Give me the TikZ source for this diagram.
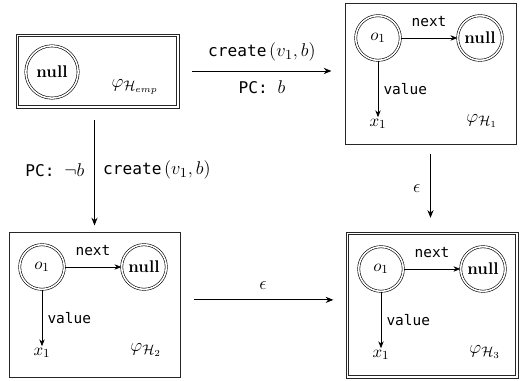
\documentclass[tikz,border=0pt]{standalone}
\usepackage{fontspec}
\setmonofont{DejaVu Sans Mono}
\usetikzlibrary{arrows.meta}
\def\U{0.65pt}
\newcommand\heapcontent[3]{%
  \begin{scope}[shift={#2}]
    \node[objnode] (#1o) at (33,35) {$o_1$};
    \node[objnode] (#1n) at (135,35) {\textbf{null}};
    \node[varnode] (#1x) at (33,121) {$x_1$};
    \node[phinode] (#1p) at (137,118) {$\varphi_{\mathcal{H}_{#3}}$};
    \draw[iarr] (#1o) -- (#1n) node[midway,above=3.5pt,lblsmall]{next};
    \draw[iarr] (#1o) -- (#1x) node[midway,right,lblsmall]{value};
  \end{scope}}
\newcommand\innerframe[1]{%
  \draw[frameline] ([shift={(1.7pt,-1.7pt)}]#1.north west) rectangle ([shift={(-1.7pt,1.7pt)}]#1.south east);}
\newcommand\lm[1]{{\fontsize{12.5}{14}\selectfont$#1$}}
\begin{document}
\begin{tikzpicture}[x=0.65pt,y=-0.65pt,
  sbox/.style={draw=black!85, line width=0.6pt, inner sep=0pt},
  frameline/.style={draw=black!85, line width=0.45pt},
  dbox/.style={draw=black!85, line width=0.45pt, inner sep=0pt},
  objnode/.style={circle, draw, double, double distance=1pt, line width=0.4pt, minimum size=29pt, inner sep=0pt, font=\fontsize{11}{13}\selectfont},
  varnode/.style={inner sep=1pt, font=\fontsize{11}{13}\selectfont},
  phinode/.style={inner sep=0pt, font=\fontsize{13}{15}\selectfont},
  lblsmall/.style={font=\ttfamily\fontsize{9.4}{11}\selectfont},
  lbl/.style={font=\ttfamily\fontsize{10.5}{12}\selectfont},
  iarr/.style={-{Stealth[length=4.5pt,width=3.5pt]}, line width=0.5pt},
  arr/.style={-{Stealth[length=5pt,width=4pt]}, line width=0.6pt},
  epsl/.style={font=\fontsize{13}{15}\selectfont}
]
\useasboundingbox (0,0) rectangle (526,381);
% boxes
\node[dbox, minimum width=163*\U, minimum height=74*\U] (hemp) at (97.5,71) {};
\innerframe{hemp}
\node[sbox, minimum width=171*\U, minimum height=141*\U] (h1) at (430.5,73.5) {};
\node[sbox, minimum width=171*\U, minimum height=145*\U] (h2) at (94.5,304.5) {};
\node[dbox, minimum width=172*\U, minimum height=146*\U] (h3) at (432,305) {};
\innerframe{h3}
% empty heap
\node[objnode, minimum size=34pt] (en) at (52,72) {\textbf{null}};
\node[phinode] (ep) at (135,87) {$\varphi_{\mathcal{H}_{emp}}$};
% heaps
\heapcontent{a}{(345,3)}{1}
\heapcontent{b}{(9,232)}{2}
\heapcontent{c}{(348,234)}{3}
% transitions
\draw[arr, shorten <=8.5pt, shorten >=8.5pt] (hemp.east) -- (hemp.east -| h1.west)
  node[midway, above=2.5pt, lbl] {create\,\lm{(v_1, b)}}
  node[midway, below=2.5pt, lbl] {PC: \lm{b}};
\draw[arr, shorten <=7.5pt, shorten >=4pt] (h2.north |- hemp.south) -- (h2.north)
  node[midway, left=3pt, lbl] {PC: \lm{\neg b}}
  node[midway, right=2pt, lbl] {create\,\lm{(v_1, b)}};
\draw[arr, shorten <=6.5pt, shorten >=9pt] (h1.south) -- (h1.south |- h3.north)
  node[midway, left=3pt, epsl] {$\epsilon$};
\draw[arr, shorten <=9pt, shorten >=8pt] ([yshift=3pt]h2.east) -- ([yshift=3pt]h2.east -| h3.west)
  node[midway, above=3pt, epsl] {$\epsilon$};
\end{tikzpicture}
\end{document}
